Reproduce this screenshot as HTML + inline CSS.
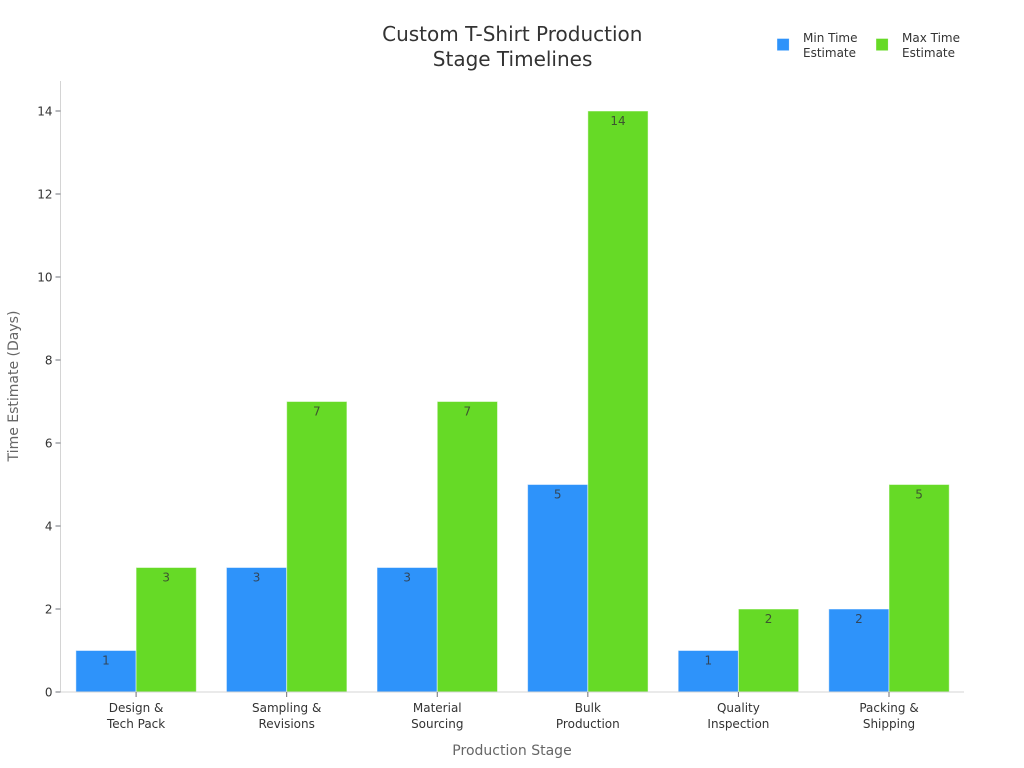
<!DOCTYPE html>
<html lang="en">
<head>
<meta charset="utf-8">
<title>Custom T-Shirt Production Stage Timelines</title>
<style>
html,body{margin:0;padding:0;background:#fff;width:1024px;height:768px;overflow:hidden}
svg{display:block;font-family:"DejaVu Sans","Liberation Sans",sans-serif}
</style>
</head>
<body>
<svg id="chart" xmlns="http://www.w3.org/2000/svg" width="1024" height="768" viewBox="0 0 1024 768">
  <rect x="0" y="0" width="1024" height="768" fill="#ffffff"/>
  <text text-anchor="middle" font-size="20" fill="#333333"><tspan x="512.3" y="41">Custom T-Shirt Production</tspan><tspan x="512.6" y="66">Stage Timelines</tspan></text>
  <g font-size="12" fill="#333333">
    <g>
      <rect x="777.3" y="38.8" width="11.6" height="11.6" fill="#2e93fa" stroke="#2e93fa" stroke-opacity="0.4" stroke-width="0.5"/>
      <text x="803" y="42">Min Time</text>
      <text x="803" y="57">Estimate</text>
    </g>
    <g>
      <rect x="876.3" y="38.8" width="11.6" height="11.6" fill="#66da26" stroke="#66da26" stroke-opacity="0.4" stroke-width="0.5"/>
      <text x="902" y="42">Max Time</text>
      <text x="902" y="57">Estimate</text>
    </g>
  </g>
  <text transform="translate(18 386) rotate(-90)" text-anchor="middle" font-size="14" fill="#666666">Time Estimate (Days)</text>
  <text x="512" y="755" text-anchor="middle" font-size="14" fill="#666666">Production Stage</text>
  <g id="bars"></g>
  <g id="axes"></g>
  <g id="labels"></g>
</svg>
<script>
const categories = [["Design &", "Tech Pack"], ["Sampling &", "Revisions"], ["Material", "Sourcing"], ["Bulk", "Production"], ["Quality", "Inspection"], ["Packing &", "Shipping"]];
const minTimes = [1, 3, 3, 5, 1, 2];
const maxTimes = [3, 7, 7, 14, 2, 5];
const yTicks = [0, 2, 4, 6, 8, 10, 12, 14];

const NS = 'http://www.w3.org/2000/svg';
const plotLeft = 60.5, plotRight = 964, plotBottom = 692, plotTop = 81;
const pxPerUnit = 41.5;
const band = (plotRight - plotLeft) / categories.length;
const barWidth = band * 0.4;
function yPos(v) { return plotBottom - v * pxPerUnit; }
function xCenter(i) { return plotLeft + 0.3 + band * (i + 0.5); }
function make(tag, attrs, parent) {
  const el = document.createElementNS(NS, tag);
  for (const k in attrs) el.setAttribute(k, attrs[k]);
  parent.appendChild(el);
  return el;
}
const barsG = document.getElementById('bars');
const axesG = document.getElementById('axes');
const labelsG = document.getElementById('labels');

function drawSeries(values, color, offset, seriesName) {
  values.forEach(function (v, i) {
    const x = xCenter(i) + offset * barWidth;
    const bar = make('rect', { x: x, y: yPos(v), width: barWidth, height: v * pxPerUnit, fill: color, stroke: '#ffffff', 'stroke-opacity': 0.5, 'stroke-width': 1 }, barsG);
    
    
    const label = make('text', { x: x + barWidth / 2, y: yPos(v) + 14, 'text-anchor': 'middle', 'font-size': 12, fill: '#333333', 'fill-opacity': 0.8 }, labelsG);
    
    
    label.textContent = v;
  });
}
drawSeries(minTimes, '#2e93fa', -1, 'min');
drawSeries(maxTimes, '#66da26', 0, 'max');

const yAxis = make('line', { x1: plotLeft, x2: plotLeft, y1: plotTop, y2: plotBottom, stroke: '#d4d4d4', 'stroke-width': 1 }, axesG);


const xAxis = make('line', { x1: plotLeft, x2: plotRight, y1: plotBottom, y2: plotBottom, stroke: '#d4d4d4', 'stroke-width': 1 }, axesG);



yTicks.forEach(function (t) {
  const y = yPos(t);
  const tick = make('line', { x1: plotLeft - 5, x2: plotLeft, y1: y, y2: y, stroke: '#6e7079', 'stroke-width': 1 }, axesG);
  
  
  const label = make('text', { x: plotLeft - 8, y: y + 4.5, 'text-anchor': 'end', 'font-size': 12, fill: '#333333' }, axesG);
  
  
  label.textContent = t;
});

categories.forEach(function (lines, i) {
  const x = xCenter(i);
  const tick = make('line', { x1: x, x2: x, y1: plotBottom, y2: plotBottom + 5, stroke: '#6e7079', 'stroke-width': 1 }, axesG);
  
  
  const label = make('text', { 'text-anchor': 'middle', 'font-size': 12, fill: '#333333' }, axesG);
  
  
  lines.forEach(function (line, j) {
    const span = make('tspan', { x: x, y: 712 + j * 16 }, label);
    span.textContent = line;
  });
});
</script>
</body>
</html>
